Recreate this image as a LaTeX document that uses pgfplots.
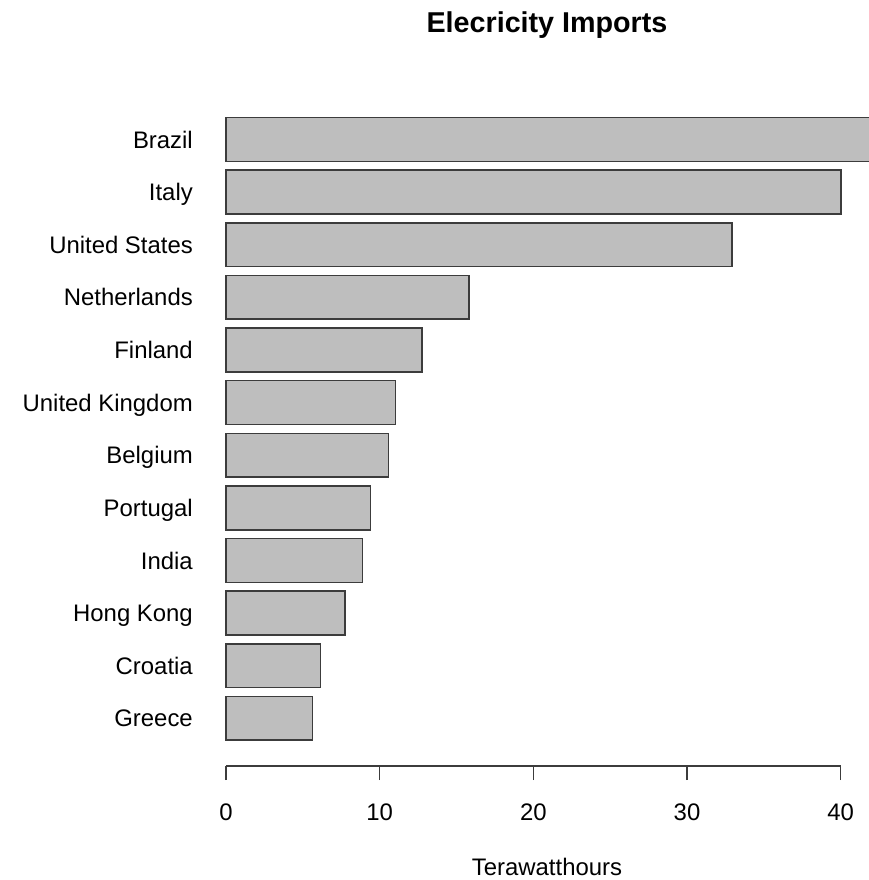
\documentclass[border=0pt]{standalone}
\usepackage{pgfplots}
\pgfplotsset{compat=1.18}
\usepackage{fontspec}
\setmainfont{Liberation Sans}
\definecolor{barfill}{RGB}{190,190,190}
\definecolor{edge}{RGB}{60,60,60}
\begin{document}
\begin{tikzpicture}
\begin{axis}[
  name=ax, at={(0,0)}, anchor=south west,
  scale only axis, width=643bp, height=666bp,
  xmin=0, xmax=41.84, ymin=0.093, ymax=12.751,
  clip=false,
  axis line style={draw=none},
  xbar, bar width=43.8bp, bar shift=0pt,
  xtick={0,10,20,30,40},
  xticklabels={0,10,20,30,40},
  xtick pos=bottom, tick align=outside,
  xtick style={draw=edge, line width=1.5bp},
  major tick length=14bp,
  xticklabel style={anchor=base, inner sep=0pt, yshift=-54bp+14bp, font=\fontsize{24}{28}\selectfont},
  ytick={1,...,12},
  yticklabels={Greece,Croatia,Hong Kong,India,Portugal,Belgium,United Kingdom,Finland,Netherlands,United States,Italy,Brazil},
  ytick style={draw=none},
  yticklabel style={anchor=base east, inner sep=0pt, xshift=-19bp, yshift=-8.6bp, font=\fontsize{24}{28}\selectfont},
  xlabel={Terawatthours},
  xlabel style={at={(axis description cs:0.4992,0)}, anchor=base, inner sep=0pt, yshift=-109bp, font=\fontsize{24}{28}\selectfont},
  title={\bfseries Elecricity Imports},
  title style={at={(axis description cs:0.4992,1)}, anchor=base, inner sep=0pt, yshift=62bp, font=\fontsize{28.8}{34}\selectfont\bfseries},
]
\addplot[fill=barfill, draw=edge, line width=1.6bp] coordinates {
  (5.62,1) (6.14,2) (7.74,3) (8.87,4) (9.41,5) (10.58,6)
  (11.02,7) (12.77,8) (15.83,9) (32.94,10) (40.0,11) (45.0,12)
};
\draw[edge, line width=1.5bp] (axis cs:0,0.093) -- (axis cs:40,0.093);
\end{axis}
\pgfresetboundingbox
\path[use as bounding box] ([shift={(-226bp,-114bp)}]ax.south west) rectangle ([shift={(0bp,100bp)}]ax.north east);
\end{tikzpicture}
\end{document}
